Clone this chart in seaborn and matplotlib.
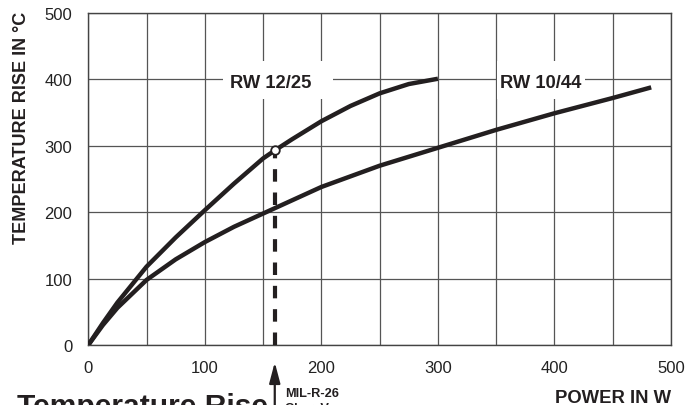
import matplotlib
matplotlib.use("Agg")
import matplotlib.pyplot as plt
import seaborn as sns
import pandas as pd
from matplotlib.patches import Rectangle

# ---------------- data ----------------
rw1225_power = [0, 12.5, 25, 50, 75, 100, 125, 150, 160, 175, 200, 225, 250, 275, 300]
rw1225_temp = [0, 33, 64, 118, 162, 203, 243, 281, 293, 310, 337, 360, 379, 393, 401]

rw1044_power = [0, 12.5, 25, 50, 75, 100, 125, 150, 175, 200, 250, 300, 350, 400, 450, 483]
rw1044_temp = [0, 30, 56, 98, 129, 155, 178, 198, 218, 238, 270, 297, 324, 349, 372, 388]

mil_power = [160]
mil_temp = [293]

x_ticks = [0, 100, 200, 300, 400, 500]
y_ticks = [0, 100, 200, 300, 400, 500]
series_names = ["RW 12/25", "RW 10/44"]

# ---------------- style ----------------
sns.set_theme(style="white")
plt.rcParams["font.family"] = ["Liberation Sans", "DejaVu Sans"]

INK = "#231f20"
GRID = "#555555"

fig = plt.figure(figsize=(6.93, 4.06), dpi=100)
ax = fig.add_axes([88.3 / 693, 1 - 346 / 406, (671 - 88.3) / 693, (346 - 14) / 406])

df = pd.concat([
    pd.DataFrame({"power": rw1225_power, "temp": rw1225_temp, "type": series_names[0]}),
    pd.DataFrame({"power": rw1044_power, "temp": rw1044_temp, "type": series_names[1]}),
])

sns.lineplot(data=df, x="power", y="temp", units="type", estimator=None, sort=False,
             color=INK, linewidth=3.2, ax=ax, legend=False, zorder=4,
             solid_joinstyle="round", solid_capstyle="butt")

# dashed MIL-R-26 line
ax.plot([mil_power[0], mil_power[0]], [0, mil_temp[0]], color=INK, lw=3.0,
        dashes=(3.0, 2.6), zorder=3, solid_capstyle="butt", dash_capstyle="butt")
sns.scatterplot(x=mil_power, y=mil_temp, ax=ax, s=38, color="white",
                edgecolor=INK, linewidth=1.3, zorder=6)

ax.set_xlim(0, 500)
ax.set_ylim(0, 500)
ax.set_xticks(x_ticks)
ax.set_xticks([50, 150, 250, 350, 450], minor=True)
ax.set_yticks(y_ticks)
ax.set_xticklabels([str(v) for v in x_ticks], fontsize=12, color="#222222")
ax.set_yticklabels([str(v) for v in y_ticks], fontsize=12, color="#222222")
ax.tick_params(axis="both", which="both", length=0)
ax.tick_params(axis="x", pad=11)
ax.tick_params(axis="y", pad=11.5)
ax.grid(True, which="both", axis="x", color=GRID, lw=0.9, zorder=0)
ax.grid(True, which="major", axis="y", color=GRID, lw=0.9, zorder=0)
ax.set_axisbelow(True)
for s in ax.spines.values():
    s.set_visible(True)
    s.set_color("#444444")
    s.set_linewidth(1.0)
ax.set_xlabel("")
ax.set_ylabel("")

# label boxes
ax.add_patch(Rectangle((115.5, 370), 94.5, 57, facecolor="white", edgecolor="none", zorder=2))
ax.add_patch(Rectangle((350.6, 370), 75.5, 57, facecolor="white", edgecolor="none", zorder=2))
ax.text(156.5, 396, series_names[0], ha="center", va="center", fontsize=13.2,
        fontweight="bold", color=INK, zorder=5)
ax.text(388, 396, series_names[1], ha="center", va="center", fontsize=13.2,
        fontweight="bold", color=INK, zorder=5)

# arrow below axis
trans = ax.get_xaxis_transform()
ax.annotate("", xy=(mil_power[0], -0.052), xytext=(mil_power[0], -0.22),
            xycoords=trans, textcoords=trans, annotation_clip=False,
            arrowprops=dict(arrowstyle="-|>,head_length=1.25,head_width=0.33",
                            mutation_scale=10, lw=1.6, color=INK,
                            shrinkA=0, shrinkB=0))

# axis titles and captions
fig.text(21.7 / 693, 1 - 127.5 / 406, "TEMPERATURE RISE IN °C", rotation=90,
         ha="center", va="center", fontsize=13, fontweight="bold", color=INK)
fig.text(671.5 / 693, 2.5 / 406, "POWER IN W", ha="right", va="baseline",
         fontsize=13.3, fontweight="bold", color=INK)
fig.text(16.7 / 693, -8.8 / 406, "Temperature Rise", ha="left", va="baseline",
         fontsize=21.6, fontweight="bold", color=INK)
fig.text(285 / 693, 9.3 / 406, "MIL-R-26", ha="left", va="baseline",
         fontsize=9.2, fontweight="bold", color=INK)
fig.text(285 / 693, -6 / 406, "Char. V", ha="left", va="baseline",
         fontsize=9.2, fontweight="bold", color=INK)

fig.savefig("out.png", dpi=100)
